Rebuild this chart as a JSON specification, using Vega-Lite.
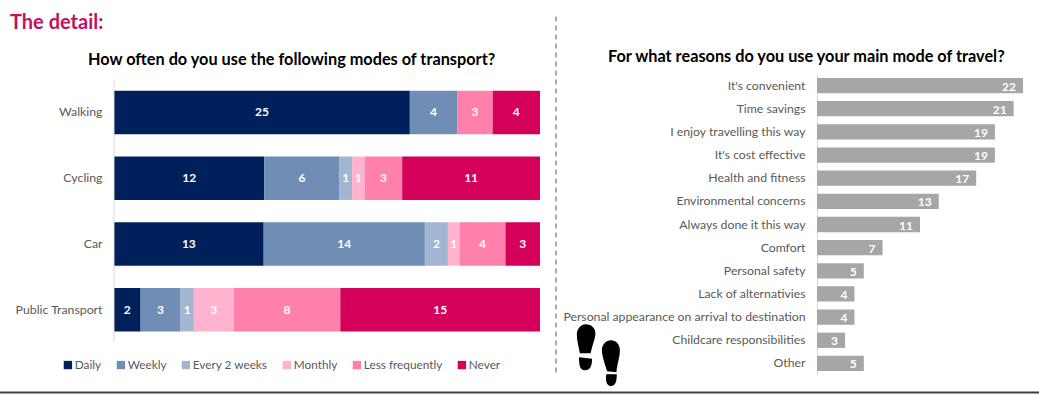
{
"$schema":"https://vega.github.io/schema/vega-lite/v6.json",
"autosize":"none",
"padding":{"left":114,"top":74,"right":925,"bottom":320},
"background":"white",
"config":{"font":"Lato","view":{"stroke":null}},
"title":{"text":"The detail:","anchor":"start","frame":"group","dx":-104,"offset":-17,"fontSize":20,"fontWeight":"bold","color":"#C2115E","font":"Lato"},
"bounds":"flush",
"spacing":277,
"hconcat":[
{
"width":426,"height":301,
"title":{"text":"How often do you use the following modes of transport?","anchor":"start","frame":"group","dx":-26,"offset":-52,"fontSize":16.3,"fontWeight":"bold","color":"#000000","font":"Lato"},
"resolve":{"scale":{"y":"independent"}},
"layer":[
{
"data":{"values":[
{"mode":"Walking","freq":"Daily","rank":1,"count":25},
{"mode":"Walking","freq":"Weekly","rank":2,"count":4},
{"mode":"Walking","freq":"Less frequently","rank":5,"count":3},
{"mode":"Walking","freq":"Never","rank":6,"count":4},
{"mode":"Cycling","freq":"Daily","rank":1,"count":12},
{"mode":"Cycling","freq":"Weekly","rank":2,"count":6},
{"mode":"Cycling","freq":"Every 2 weeks","rank":3,"count":1},
{"mode":"Cycling","freq":"Monthly","rank":4,"count":1},
{"mode":"Cycling","freq":"Less frequently","rank":5,"count":3},
{"mode":"Cycling","freq":"Never","rank":6,"count":11},
{"mode":"Car","freq":"Daily","rank":1,"count":13},
{"mode":"Car","freq":"Weekly","rank":2,"count":14},
{"mode":"Car","freq":"Every 2 weeks","rank":3,"count":2},
{"mode":"Car","freq":"Monthly","rank":4,"count":1},
{"mode":"Car","freq":"Less frequently","rank":5,"count":4},
{"mode":"Car","freq":"Never","rank":6,"count":3},
{"mode":"Public Transport","freq":"Daily","rank":1,"count":2},
{"mode":"Public Transport","freq":"Weekly","rank":2,"count":3},
{"mode":"Public Transport","freq":"Every 2 weeks","rank":3,"count":1},
{"mode":"Public Transport","freq":"Monthly","rank":4,"count":3},
{"mode":"Public Transport","freq":"Less frequently","rank":5,"count":8},
{"mode":"Public Transport","freq":"Never","rank":6,"count":15}
]},
"encoding":{
"y":{"field":"mode","type":"nominal","sort":["Walking","Cycling","Car","Public Transport"],
"scale":{"paddingInner":0.34,"paddingOuter":0.459,"align":0.278},
"axis":{"title":null,"domain":false,"ticks":false,"labelPadding":12,"labelFontSize":12.3,"labelColor":"#595959","labelFont":"Lato","labelBaseline":"middle"}},
"order":{"field":"rank","type":"quantitative"}
},
"layer":[
{"mark":{"type":"bar"},
"encoding":{
"x":{"field":"count","type":"quantitative","stack":"normalize","scale":{"domain":[0,1],"nice":false},"axis":null},
"color":{"field":"freq","type":"nominal",
"scale":{"domain":["Daily","Weekly","Every 2 weeks","Monthly","Less frequently","Never"],"range":["#00205B","#6F8DB5","#A2B5D3","#FFB3CF","#FF80AB","#D4005A"]},
"legend":{"title":null,"orient":"none","direction":"horizontal","columns":6,"legendX":-52,"legendY":285,"symbolType":"square","symbolSize":70,"symbolStrokeWidth":0,"labelFontSize":11.8,"labelColor":"#595959","labelFont":"Lato","columnPadding":13,"labelOffset":1}}}},
{"mark":{"type":"text","color":"white","fontWeight":"bold","fontSize":12,"font":"Lato"},
"encoding":{
"x":{"field":"count","type":"quantitative","stack":"normalize","bandPosition":0.5,"scale":{"domain":[0,1],"nice":false},"axis":null},
"text":{"field":"count","type":"quantitative"}}}
]
},
{"data":{"values":[{"line":"axis","x":0,"y":0.0186,"y2":0.892}]},
"mark":{"type":"rule","color":"#D9D9D9","strokeWidth":1},
"encoding":{"x":{"field":"x","type":"quantitative"},"y":{"field":"y","type":"quantitative","scale":{"domain":[0,1],"nice":false,"reverse":true},"axis":null},"y2":{"field":"y2"}}},
{"data":{"values":[{"line":"divider","x":1.0376,"y":-0.191,"y2":1.005}]},
"mark":{"type":"rule","color":"#595959","strokeWidth":1,"strokeDash":[5,4],"clip":false},
"encoding":{"x":{"field":"x","type":"quantitative"},"y":{"field":"y","type":"quantitative","scale":{"domain":[0,1],"nice":false,"reverse":true},"axis":null},"y2":{"field":"y2"}}},
{"data":{"values":[{"line":"base","x":-0.27,"x2":2.18,"y":1.058}]},
"mark":{"type":"rule","color":"#404040","strokeWidth":2,"clip":false},
"encoding":{"x":{"field":"x","type":"quantitative"},"x2":{"field":"x2"},"y":{"field":"y","type":"quantitative","scale":{"domain":[0,1],"nice":false,"reverse":true},"axis":null}}}
]
},
{
"width":206,"height":301,
"title":{"text":"For what reasons do you use your main mode of travel?","anchor":"start","frame":"group","dx":-209,"offset":9,"fontSize":16.3,"fontWeight":"bold","color":"#000000","font":"Lato"},
"layer":[
{
"data":{"values":[
{"reason":"It's convenient","value":22},
{"reason":"Time savings","value":21},
{"reason":"I enjoy travelling this way","value":19},
{"reason":"It's cost effective","value":19},
{"reason":"Health and fitness","value":17},
{"reason":"Environmental concerns","value":13},
{"reason":"Always done it this way","value":11},
{"reason":"Comfort","value":7},
{"reason":"Personal safety","value":5},
{"reason":"Lack of alternativies","value":4},
{"reason":"Personal appearance on arrival to destination","value":4},
{"reason":"Childcare responsibilities","value":3},
{"reason":"Other","value":5}
]},
"encoding":{
"y":{"field":"reason","type":"nominal","sort":null,"scale":{"paddingInner":0.34,"paddingOuter":0.17},
"axis":{"title":null,"domainColor":"#D9D9D9","ticks":false,"labelPadding":12,"labelFontSize":12.25,"labelColor":"#595959","labelFont":"Lato","labelLimit":300}},
"x":{"field":"value","type":"quantitative","scale":{"domain":[0,22],"nice":false},"axis":null}
},
"layer":[
{"mark":{"type":"bar","color":"#A6A6A6"}},
{"mark":{"type":"text","color":"white","fontWeight":"bold","fontSize":12,"font":"Lato","align":"right","dx":-7,"dy":1},
"encoding":{"text":{"field":"value","type":"quantitative"}}}
]
},
{
"data":{"values":[{"icon":"footprints","x":-23.4,"reason":"Childcare responsibilities"}]},
"mark":{"type":"point","filled":true,"color":"#000000","opacity":1,"clip":false,"size":3844,
"shape":"M-0.58 0.42 C-0.62 0.2 -0.68 0 -0.68 -0.19 C-0.68 -0.38 -0.55 -0.52 -0.39 -0.52 C-0.2 -0.52 -0.08 -0.38 -0.08 -0.23 C-0.08 -0.05 -0.2 0.2 -0.23 0.42 Z M-0.61 0.55 L-0.19 0.6 C-0.19 0.8 -0.22 0.97 -0.42 0.97 C-0.58 0.97 -0.61 0.8 -0.61 0.55 Z M0.3 1.0 C0.22 0.75 0.13 0.5 0.13 0.32 C0.13 0.13 0.27 0 0.42 0 C0.58 0 0.71 0.13 0.71 0.32 C0.71 0.55 0.62 0.75 0.6 1.03 Z M0.27 1.1 L0.61 1.1 C0.61 1.3 0.58 1.48 0.42 1.48 C0.28 1.48 0.24 1.3 0.27 1.1 Z"},
"encoding":{"x":{"field":"x","type":"quantitative"},"y":{"field":"reason","type":"nominal","sort":null}}
}
]
}
]
}
